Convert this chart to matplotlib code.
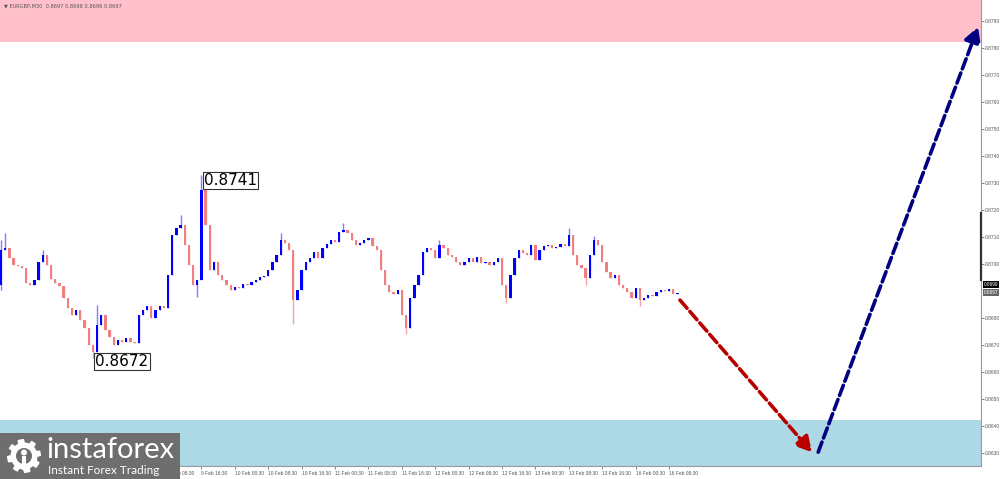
import numpy as np
import matplotlib.pyplot as plt
from matplotlib.patches import Rectangle, Polygon, Circle, FancyArrowPatch

# hourly closes, EURGBP (bar index 0..162)
closes = [
    0.87052, 0.87059, 0.87022, 0.86996, 0.86993, 0.86985, 0.86930, 0.86922, 0.86941, 0.87007,
    0.87033, 0.86996, 0.86945, 0.86930, 0.86919, 0.86874, 0.86837, 0.86811, 0.86830, 0.86793,
    0.86763, 0.86700, 0.86674, 0.86774, 0.86811, 0.86756, 0.86730, 0.86700, 0.86719, 0.86711,
    0.86726, 0.86711, 0.86708, 0.86811, 0.86830, 0.86845, 0.86800, 0.86830, 0.86845, 0.86837,
    0.86959, 0.87107, 0.87133, 0.87144, 0.87070, 0.86996, 0.86922, 0.86941, 0.87274, 0.87144,
    0.86978, 0.87007, 0.86959, 0.86941, 0.86922, 0.86904, 0.86915, 0.86911, 0.86926, 0.86922,
    0.86933, 0.86941, 0.86952, 0.86956, 0.86978, 0.87007, 0.87033, 0.87089, 0.87078, 0.87052,
    0.86867, 0.86904, 0.86978, 0.87007, 0.87022, 0.87044, 0.87022, 0.87059, 0.87074, 0.87089,
    0.87081, 0.87118, 0.87126, 0.87115, 0.87089, 0.87070, 0.87078, 0.87089, 0.87096, 0.87067,
    0.87052, 0.86978, 0.86922, 0.86896, 0.86889, 0.86904, 0.86811, 0.86763, 0.86874, 0.86922,
    0.86959, 0.87044, 0.87059, 0.87052, 0.87022, 0.87070, 0.87059, 0.87033, 0.87026, 0.87007,
    0.86996, 0.87007, 0.87022, 0.87007, 0.87026, 0.87004, 0.87007, 0.86996, 0.87007, 0.87022,
    0.86922, 0.86874, 0.86959, 0.87022, 0.87052, 0.87041, 0.87033, 0.87070, 0.87015, 0.87052,
    0.87067, 0.87070, 0.87059, 0.87063, 0.87074, 0.87067, 0.87107, 0.87033, 0.86996, 0.86985,
    0.86948, 0.87033, 0.87089, 0.87070, 0.87007, 0.86970, 0.86948, 0.86959, 0.86922, 0.86911,
    0.86896, 0.86874, 0.86911, 0.86867, 0.86874, 0.86885, 0.86882, 0.86896, 0.86904, 0.86900,
    0.86907, 0.86889, 0.86893,
]
first_open = 0.86922
spike_highs = {0: 0.87089, 1: 0.87115, 10: 0.87052, 23: 0.86848, 43: 0.87181, 48: 0.87329,
               67: 0.87115, 82: 0.87152, 105: 0.87089, 136: 0.87133, 142: 0.87104}
spike_lows = {0: 0.86904, 22: 0.86652, 47: 0.86878, 70: 0.86778, 97: 0.86741, 121: 0.86856,
              140: 0.86922, 153: 0.86845}

time_labels = ["7 Feb 16:30", "8 Feb 00:30", "8 Feb 08:30", "8 Feb 16:30", "9 Feb 00:30",
               "9 Feb 08:30", "9 Feb 16:30", "10 Feb 00:30", "10 Feb 08:30", "10 Feb 16:30",
               "11 Feb 00:30", "11 Feb 08:30", "11 Feb 16:30", "12 Feb 00:30", "12 Feb 08:30",
               "12 Feb 16:30", "13 Feb 00:30", "13 Feb 08:30", "13 Feb 16:30", "16 Feb 00:30",
               "16 Feb 08:30"]
price_ticks = [0.8790, 0.8780, 0.8770, 0.8760, 0.8750, 0.8740, 0.8730, 0.8720, 0.8710, 0.8700,
               0.8680, 0.8670, 0.8660, 0.8650, 0.8640, 0.8630]

sell_zone = (0.87823, 0.8800)
buy_zone = (0.8620, 0.86423)
down_arrow = [(162.6, 0.86867), (194.2, 0.86304)]
up_arrow = [(195.7, 0.86304), (234.0, 0.87877)]
high_mark = (48, 0.87329, "0.8741")
low_mark = (22, 0.86652, "0.8672")

fig = plt.figure(figsize=(10, 4.79), dpi=100)
ax = fig.add_axes([0.0, 13 / 479, 0.981, 466 / 479])
ax.set_xlim(-0.24, 234.7)
ax.set_ylim(0.86253, 0.87977)

ax.axhspan(*sell_zone, color="#ffc0cb", lw=0, zorder=0)
ax.axhspan(*buy_zone, color="#add8e6", lw=0, zorder=0)

opens = [first_open] + closes[:-1]
for i, (o, c) in enumerate(zip(opens, closes)):
    bull = c >= o
    body = "#0000ff" if bull else "#f08080"
    wick = "#7f7fff" if bull else "#f4a6a6"
    hi = spike_highs.get(i, max(o, c))
    lo = spike_lows.get(i, min(o, c))
    ax.vlines(i, lo, hi, color=wick, lw=1, zorder=2)
    ax.bar(i, max(abs(c - o), 0.000015), bottom=min(o, c), width=0.55,
           color=body, lw=0, zorder=3)

for (x0, y0), (x1, y1), col in [(down_arrow[0], down_arrow[1], "#b80000"),
                                (up_arrow[0], up_arrow[1], "#000080")]:
    ax.add_patch(FancyArrowPatch((x0, y0), (x1, y1), arrowstyle="-|>,head_length=9,head_width=5",
                                 color=col, lw=2.6, linestyle=(0, (3, 1.2)),
                                 mutation_scale=1, zorder=5, shrinkA=0, shrinkB=0))

for xi, yv, txt, dx, dy in [(high_mark[0], high_mark[1], high_mark[2], 0.6, -0.00020),
                            (low_mark[0], low_mark[1], low_mark[2], 0.6, -0.00012)]:
    ax.text(xi + dx, yv + dy, txt, fontsize=11, va="center", ha="left", zorder=6,
            bbox=dict(boxstyle="square,pad=0.08", fc="white", ec="#333333", lw=0.8))

small = "Liberation Sans"
ax.yaxis.tick_right()
ax.set_yticks(price_ticks)
ax.set_yticklabels([f"{p:.4f}" for p in price_ticks], family=small)
ax.set_xticks(np.arange(0, 161, 8))
ax.set_xticklabels(time_labels, ha="left", family=small)
ax.tick_params(axis="both", labelsize=3.5, colors="#555555", length=2, width=0.5, pad=1)
ax.tick_params(axis="x", pad=1.5)
for s in ["top", "left"]:
    ax.spines[s].set_visible(False)
for s in ["right", "bottom"]:
    ax.spines[s].set_color("#999999")
    ax.spines[s].set_linewidth(0.8)

ax.text(0.004, 0.993, "\u25bc EURGBP,M30  0.8697 0.8698 0.8696 0.8697", transform=ax.transAxes,
        fontsize=3.6, color="#555555", va="top", ha="left")

# price tags on the scale
ytr = ax.get_yaxis_transform()
ax.text(1.003, 0.86925, "0.8699", transform=ytr, fontsize=3.4, color="white", family=small,
        va="center", ha="left", bbox=dict(boxstyle="square,pad=0.15", fc="black", ec="none"),
        clip_on=False)
ax.text(1.003, 0.86895, "0.8697", transform=ytr, fontsize=3.4, color="white", family=small,
        va="center", ha="left", bbox=dict(boxstyle="square,pad=0.15", fc="#666666", ec="none"),
        clip_on=False)
ax.plot([1.0, 1.0], [0.8694, 0.8719], transform=ytr, color="#333333",
        lw=1.6, clip_on=False, zorder=7)

# logo block
lg = fig.add_axes([0.0, 0.0, 0.18, 46 / 479])
lg.set_xlim(0, 180)
lg.set_ylim(0, 46)
lg.axis("off")
lg.add_patch(Rectangle((0, 0), 180, 46, fc="#6e6e6e", ec="none"))
ang = np.linspace(0, 2 * np.pi, 97)
rad = np.where((np.floor(ang / (2 * np.pi) * 32) % 4) < 2, 17, 13.5)
lg.add_patch(Polygon(np.c_[24 + rad * np.cos(ang), 23 + rad * np.sin(ang)], fc="white", ec="none"))
lg.add_patch(Circle((24, 23), 8, fc="#6e6e6e", ec="none"))
lg.add_patch(Circle((24, 26.5), 3, fc="white", ec="none"))
lg.add_patch(Rectangle((22, 9), 4, 14, fc="white", ec="none"))
lg.text(46, 29, "instaforex", fontsize=21, color="white", va="center", ha="left",
        family="Lato")
lg.text(48, 8.5, "Instant Forex Trading", fontsize=8.5, color="white", va="center", ha="left",
        family="Lato")

fig.savefig("out.png", dpi=100)
